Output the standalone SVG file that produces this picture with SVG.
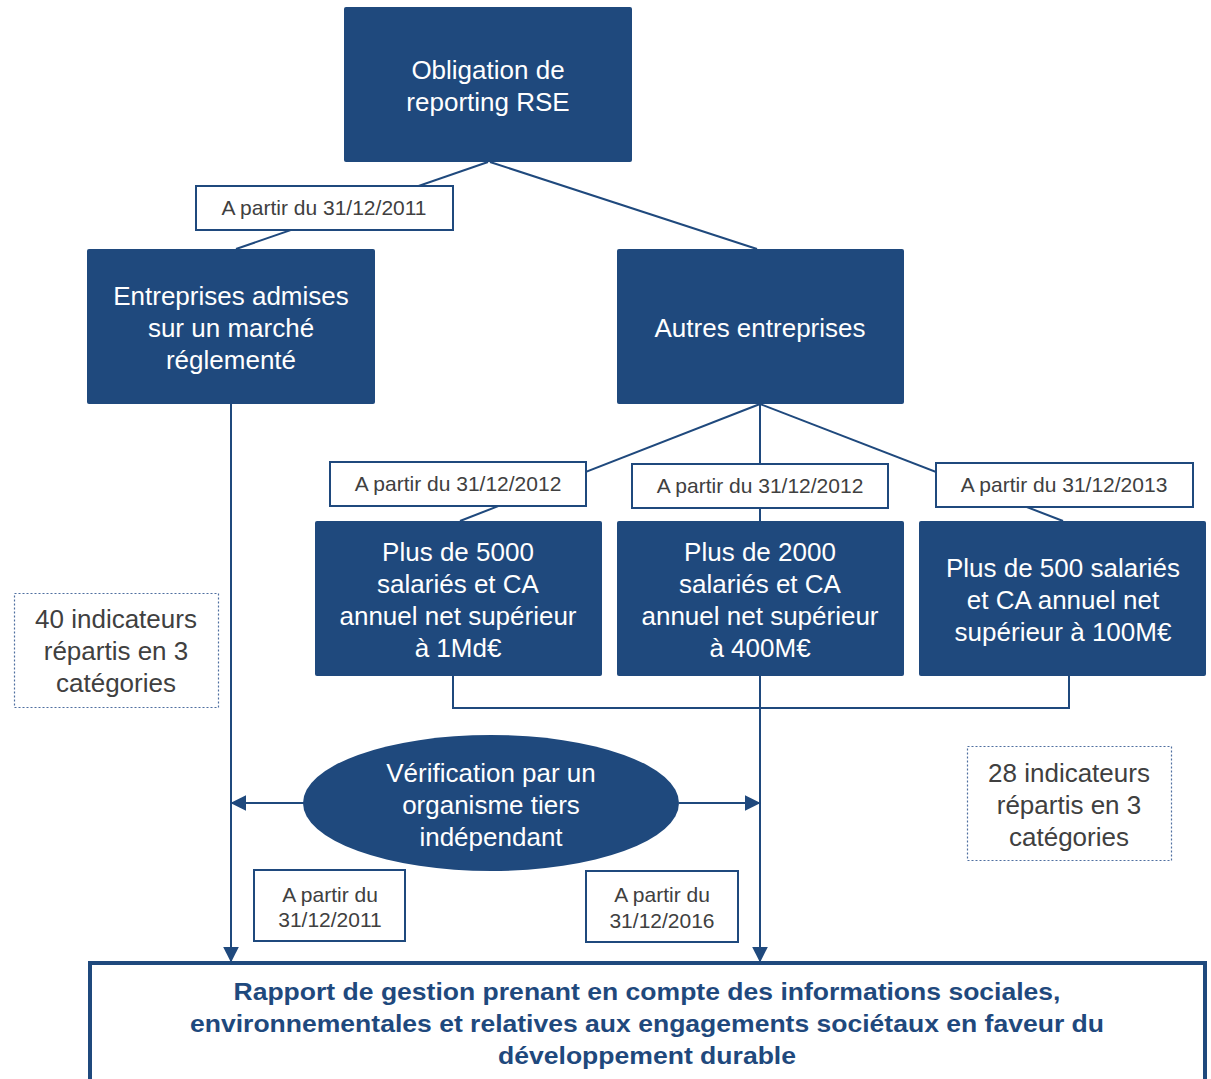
<svg xmlns="http://www.w3.org/2000/svg" width="1211" height="1079" viewBox="0 0 1211 1079">
<style>
.box{fill:#1F497D;}
.wt{fill:#fff;font-family:"Liberation Sans",Arial,sans-serif;font-size:26px;text-anchor:middle;}
.lbl{fill:#fff;stroke:#1F497D;stroke-width:2;}
.lt{fill:#404040;font-family:"Liberation Sans",Arial,sans-serif;font-size:21px;text-anchor:middle;}
.dot{fill:#fff;stroke:#4F6FA0;stroke-width:1.2;stroke-dasharray:2 2;}
.dt{fill:#404040;font-family:"Liberation Sans",Arial,sans-serif;font-size:26px;text-anchor:middle;}
.ln{stroke:#1F497D;stroke-width:2;fill:none;}
.bt{fill:#1F497D;font-family:"Liberation Sans",Arial,sans-serif;font-size:24px;font-weight:bold;text-anchor:middle;}
</style>
<defs>
<marker id="ah2" viewBox="0 0 10 10" refX="9" refY="5" markerWidth="16" markerHeight="16" markerUnits="userSpaceOnUse" orient="auto">
<path d="M0,0 L10,5 L0,10 z" fill="#1F497D"/>
</marker>
</defs>
<rect width="1211" height="1079" fill="#fff"/>
<g id="connectors">
<line class="ln" x1="488" y1="162" x2="236" y2="249"/>
<line class="ln" x1="490" y1="162" x2="757" y2="249"/>
<line class="ln" x1="760" y1="404" x2="460" y2="521"/>
<line class="ln" x1="760" y1="404" x2="760" y2="521"/>
<line class="ln" x1="760" y1="404" x2="1063" y2="521"/>
<polyline class="ln" points="453,676 453,708 1069,708 1069,676"/>
<line class="ln" x1="231" y1="404" x2="231" y2="961" marker-end="url(#ah2)"/>
<line class="ln" x1="760" y1="676" x2="760" y2="961" marker-end="url(#ah2)"/>
<line class="ln" x1="304" y1="803" x2="232" y2="803" marker-end="url(#ah2)"/>
<line class="ln" x1="679" y1="803" x2="759" y2="803" marker-end="url(#ah2)"/>
</g>
<g id="n-obligation">
<rect class="box" x="344" y="7" width="288" height="155" rx="2"/>
<text class="wt" x="488" y="79">Obligation de</text>
<text class="wt" x="488" y="111">reporting RSE</text>
</g>
<g id="l-2011a">
<rect class="lbl" x="196" y="186" width="257" height="44"/>
<text class="lt" x="324" y="215">A partir du 31/12/2011</text>
</g>
<g id="n-admises">
<rect class="box" x="87" y="249" width="288" height="155" rx="2"/>
<text class="wt" x="231" y="305">Entreprises admises</text>
<text class="wt" x="231" y="337">sur un marché</text>
<text class="wt" x="231" y="369">réglementé</text>
</g>
<g id="n-autres">
<rect class="box" x="617" y="249" width="287" height="155" rx="2"/>
<text class="wt" x="760" y="337">Autres entreprises</text>
</g>
<g id="l-2012a">
<rect class="lbl" x="330" y="462" width="256" height="44"/>
<text class="lt" x="458" y="491">A partir du 31/12/2012</text>
</g>
<g id="l-2012b">
<rect class="lbl" x="632" y="464" width="256" height="44"/>
<text class="lt" x="760" y="493">A partir du 31/12/2012</text>
</g>
<g id="l-2013">
<rect class="lbl" x="936" y="463" width="257" height="44"/>
<text class="lt" x="1064" y="492">A partir du 31/12/2013</text>
</g>
<g id="n-5000">
<rect class="box" x="315" y="521" width="287" height="155" rx="2"/>
<text class="wt" x="458" y="561">Plus de 5000</text>
<text class="wt" x="458" y="593">salariés et CA</text>
<text class="wt" x="458" y="625">annuel net supérieur</text>
<text class="wt" x="458" y="657">à 1Md€</text>
</g>
<g id="n-2000">
<rect class="box" x="617" y="521" width="287" height="155" rx="2"/>
<text class="wt" x="760" y="561">Plus de 2000</text>
<text class="wt" x="760" y="593">salariés et CA</text>
<text class="wt" x="760" y="625">annuel net supérieur</text>
<text class="wt" x="760" y="657">à 400M€</text>
</g>
<g id="n-500">
<rect class="box" x="919" y="521" width="287" height="155" rx="2"/>
<text class="wt" x="1063" y="577">Plus de 500 salariés</text>
<text class="wt" x="1063" y="609">et CA annuel net</text>
<text class="wt" x="1063" y="641">supérieur à 100M€</text>
</g>
<g id="n-40">
<rect class="dot" x="14.5" y="593.5" width="204" height="114"/>
<text class="dt" x="116" y="628">40 indicateurs</text>
<text class="dt" x="116" y="660">répartis en 3</text>
<text class="dt" x="116" y="692">catégories</text>
</g>
<g id="n-28">
<rect class="dot" x="967.5" y="746.5" width="204" height="114"/>
<text class="dt" x="1069" y="782">28 indicateurs</text>
<text class="dt" x="1069" y="814">répartis en 3</text>
<text class="dt" x="1069" y="846">catégories</text>
</g>
<g id="n-verif">
<ellipse class="box" cx="491" cy="803" rx="188" ry="68"/>
<text class="wt" x="491" y="782">Vérification par un</text>
<text class="wt" x="491" y="814">organisme tiers</text>
<text class="wt" x="491" y="846">indépendant</text>
</g>
<g id="l-2011b">
<rect class="lbl" x="254" y="870" width="151" height="71"/>
<text class="lt" x="330" y="902">A partir du</text>
<text class="lt" x="330" y="927">31/12/2011</text>
</g>
<g id="l-2016">
<rect class="lbl" x="586" y="871" width="152" height="71"/>
<text class="lt" x="662" y="902">A partir du</text>
<text class="lt" x="662" y="928">31/12/2016</text>
</g>
<g id="n-rapport">
<rect x="90" y="963" width="1115" height="130" fill="#fff" stroke="#1F497D" stroke-width="4"/>
<text class="bt" x="647" y="1000" textLength="827" lengthAdjust="spacingAndGlyphs">Rapport de gestion prenant en compte des informations sociales,</text>
<text class="bt" x="647" y="1032" textLength="914" lengthAdjust="spacingAndGlyphs">environnementales et relatives aux engagements sociétaux en faveur du</text>
<text class="bt" x="647" y="1064" textLength="298" lengthAdjust="spacingAndGlyphs">développement durable</text>
</g>
</svg>
